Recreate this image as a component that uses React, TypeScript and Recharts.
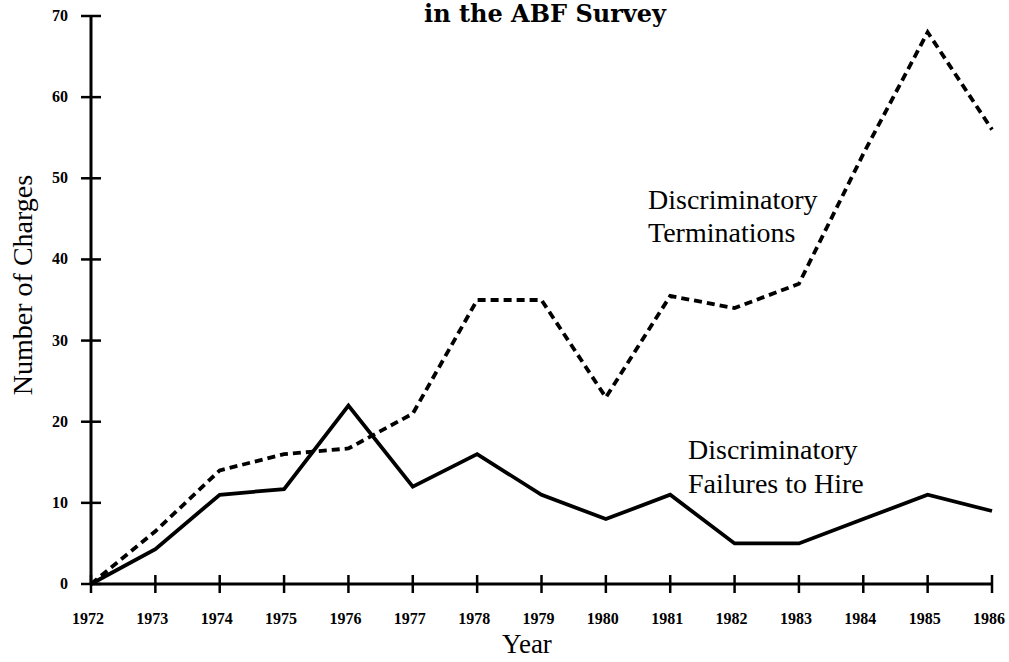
import { Line, LineChart, XAxis, YAxis } from 'recharts';

const years = [
  '1972', '1973', '1974', '1975', '1976', '1977', '1978', '1979',
  '1980', '1981', '1982', '1983', '1984', '1985', '1986',
];
const terminations = [0, 6.5, 14, 16, 16.7, 21, 35, 35, 23, 35.5, 34, 37, 53, 68, 56];
const failuresToHire = [0, 4.3, 11, 11.7, 22, 12, 16, 11, 8, 11, 5, 5, 8, 11, 9];
const yTicks = [0, 10, 20, 30, 40, 50, 60, 70];

const data = years.map((year, i) => ({
  year,
  terminations: terminations[i],
  failures: failuresToHire[i],
}));

const serif = '"Liberation Serif", "Times New Roman", serif';

const YTick = (props: any) => {
  const { x, y, payload } = props;
  return (
    <g>
      <line x1={x - 10} x2={x + 10} y1={y} y2={y} stroke="#000" strokeWidth={2.5} />
      <text x={x - 23} y={y + 5} textAnchor="end" fontFamily={serif} fontWeight="bold" fontSize={16} fill="#000">
        {payload.value}
      </text>
    </g>
  );
};

const XTick = (props: any) => {
  const { x, y, payload } = props;
  return (
    <g>
      <line x1={x} x2={x} y1={y - 9} y2={y + 9} stroke="#000" strokeWidth={2.5} />
      <text x={x - 3} y={y + 40} textAnchor="middle" fontFamily={serif} fontWeight="bold" fontSize={16} fill="#000">
        {payload.value}
      </text>
    </g>
  );
};

const note = { position: 'absolute' as const, fontFamily: serif, fontSize: 28, color: '#000', whiteSpace: 'nowrap' as const };

export default function App() {
  return (
    <div style={{ position: 'absolute', left: 0, top: 0, width: 1009, height: 662, background: '#fff', overflow: 'hidden' }}>
      <LineChart width={1009} height={662} data={data} margin={{ top: 16, right: 17, bottom: 38, left: 31 }}>
        <XAxis
          dataKey="year"
          height={40}
          tickSize={0}
          tickMargin={0}
          tick={<XTick />}
          interval={0}
          axisLine={{ stroke: '#000', strokeWidth: 3 }}
        />
        <YAxis
          width={60}
          domain={[0, 70]}
          ticks={yTicks}
          tickSize={0}
          tickMargin={0}
          tick={<YTick />}
          axisLine={{ stroke: '#000', strokeWidth: 3 }}
        />
        <Line
          type="linear"
          dataKey="terminations"
          stroke="#000"
          strokeWidth={3.8}
          strokeDasharray="8 5"
          dot={false}
          isAnimationActive={false}
        />
        <Line
          type="linear"
          dataKey="failures"
          stroke="#000"
          strokeWidth={3.8}
          dot={false}
          isAnimationActive={false}
        />
      </LineChart>
      <div
        style={{
          position: 'absolute',
          left: 545 - 200,
          width: 400,
          top: 0,
          lineHeight: '28px',
          textAlign: 'center',
          fontFamily: '"DejaVu Serif", serif',
          fontWeight: 'bold',
          fontSize: 24,
        }}
      >
        in the ABF Survey
      </div>
      <div style={{ position: 'absolute', left: 527 - 60, width: 120, top: 627, lineHeight: '34px', textAlign: 'center', fontFamily: serif, fontSize: 27 }}>
        Year
      </div>
      <div
        style={{
          position: 'absolute',
          left: 23 - 150,
          top: 285 - 17,
          width: 300,
          height: 34,
          lineHeight: '34px',
          textAlign: 'center',
          fontFamily: serif,
          fontSize: 28,
          transform: 'rotate(-90deg)',
        }}
      >
        Number of Charges
      </div>
      <div style={{ ...note, left: 648, top: 183, lineHeight: '33px' }}>
        Discriminatory
        <br />
        Terminations
      </div>
      <div style={{ ...note, left: 688, top: 433, lineHeight: '34px' }}>
        Discriminatory
        <br />
        Failures to Hire
      </div>
    </div>
  );
}
